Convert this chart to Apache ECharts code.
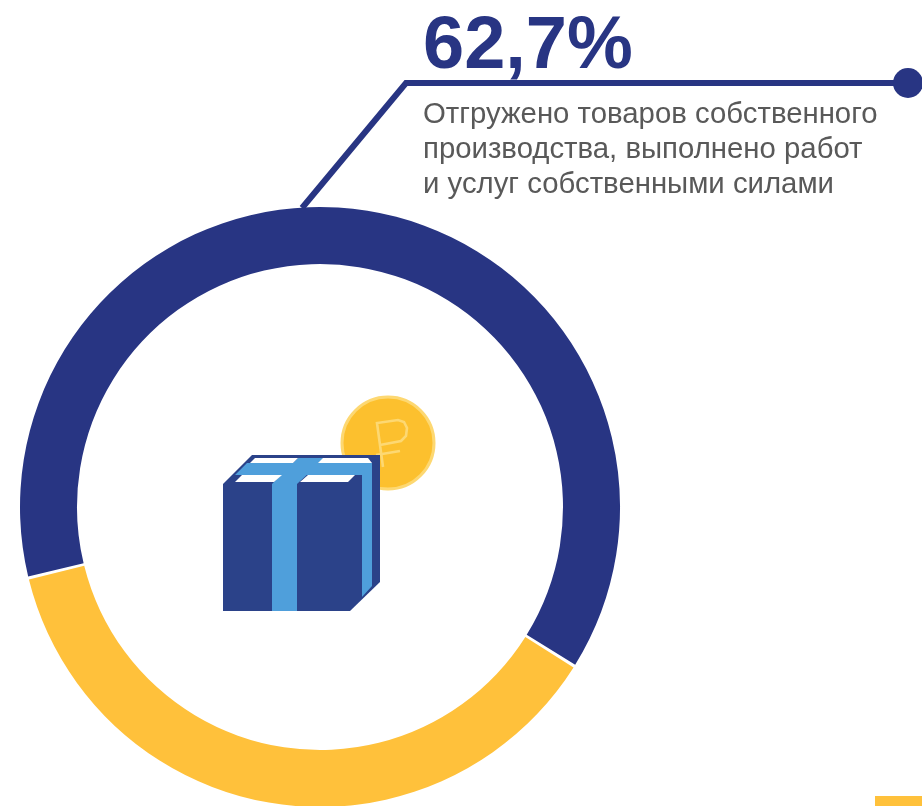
<!DOCTYPE html>
<html><head><meta charset="utf-8">
<style>html,body{margin:0;padding:0;background:#fff}#c{width:922px;height:806px}</style>
<script src="https://cdn.jsdelivr.net/npm/echarts@6/dist/echarts.min.js"></script>
</head><body><div id="c"></div>
<script>
const categories = ['Отгружено товаров собственного производства, выполнено работ и услуг собственными силами', 'Прочее'];
const values = [62.7, 37.3];
const colors = ['#283583', '#FFC13B'];
const headline = '62,7%';
const descriptionLines = ['Отгружено товаров собственного', 'производства, выполнено работ', 'и услуг собственными силами'];

const navy = '#283583', boxBlue = '#2B4289', ribbon = '#4F9FDB';
const poly = (points, fill, z) => ({type:'polygon', z:z||10, shape:{points}, style:{fill}});
const font = (size, weight) => `${weight||'normal'} ${size}px "Liberation Sans", Arial, sans-serif`;

const chart = echarts.init(document.getElementById('c'), null, {renderer:'canvas'});
chart.setOption({
  animation:false,
  backgroundColor:'#fff',
  series:[{
    type:'pie', center:[320,507], radius:[243,300], startAngle:193.7, clockwise:true,
    padAngle:0.6, label:{show:false}, labelLine:{show:false}, silent:true,
    data:categories.map((name,i)=>({name, value:values[i], itemStyle:{color:colors[i]}}))
  }],
  graphic:[
    {type:'polyline', z:5, shape:{points:[[302,208],[406,83],[908,83]]}, style:{stroke:navy, lineWidth:6, fill:null}},
    {type:'circle', z:6, shape:{cx:908,cy:83,r:15}, style:{fill:navy}},
    {type:'text', z:6, style:{x:423,y:85,text:headline,font:font(74,'bold'),fill:navy,verticalAlign:'bottom'}},
    ...descriptionLines.map((t,i)=>({type:'text', z:6, style:{x:423,y:100+35*i,text:t,font:font(29.35),fill:'#595959',verticalAlign:'top'}})),
    {type:'rect', z:6, shape:{x:875,y:796,width:47,height:10}, style:{fill:'#FFC13B'}},
    // coin
    {type:'circle', z:8, shape:{cx:388,cy:443,r:46}, style:{fill:'#FCC02E',stroke:'#FDD872',lineWidth:3}},
    {type:'polyline', z:9, shape:{points:[[383,467],[377,423],[398,420],[404,422],[407,428],[406,436],[401,441],[380,445]]}, style:{stroke:'#FDD872',lineWidth:2.6,fill:null}},
    {type:'line', z:9, shape:{x1:376,y1:455,x2:400,y2:451}, style:{stroke:'#FDD872',lineWidth:2.6}},
    // box
    poly([[223,484],[252,455],[380,455],[380,582],[350,611],[223,611]], boxBlue),
    poly([[235,475],[247,463],[372,463],[372,586],[362,597],[362,475]], ribbon, 11),
    poly([[298,458],[325,458],[297,484],[272,484]], ribbon, 11),
    poly([[272,484],[297,484],[297,611],[272,611]], ribbon, 11),
    poly([[235,482],[242,475],[282,475],[274,482]], '#fff', 13),
    poly([[300,482],[308,475],[355,475],[348,482]], '#fff', 13),
    poly([[250,463],[255,458],[298,458],[293,463]], '#fff', 13),
    poly([[318,463],[323,458],[368,458],[372,463]], '#fff', 13)
  ]
});
</script></body></html>
